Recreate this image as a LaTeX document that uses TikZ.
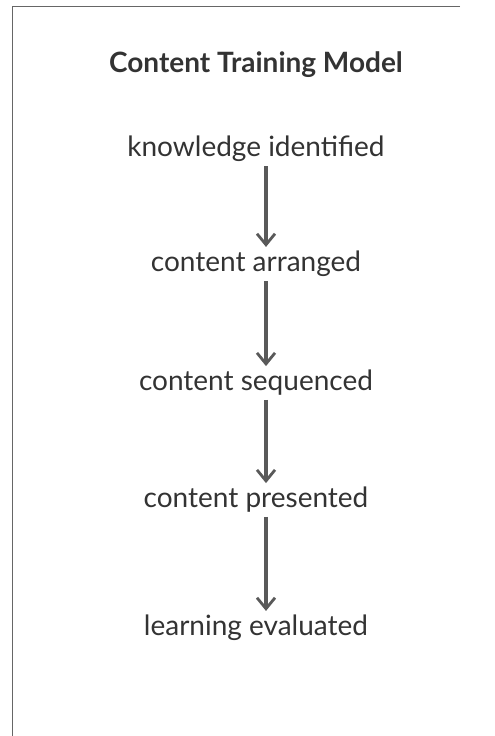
\documentclass[tikz,border=0pt]{standalone}
\usepackage{fontspec}
\setmainfont{Lato}
\usetikzlibrary{arrows.meta}

\tikzset{
	stage/.style={text=black!80, font=\fontsize{28}{32}\selectfont, inner sep=4pt},
	flow/.style={draw=black!65, line width=3.4pt, -{Straight Barb[length=11pt,width=18pt,line width=2.8pt]}}
}

\begin{document}
\begin{tikzpicture}[x=1pt,y=-1pt]

\useasboundingbox (0,0) rectangle (495,736);

% frame
\draw [black!60, line width=0.8pt] (460,6) -- (12,6) -- (12,736);

\node (title) [text=black!80, font=\fontsize{28}{32}\selectfont\bfseries] at (256,65) {Content Training Model};

\node (s1) [stage] at (256,149) {knowledge identified};
\node (s2) [stage] at (256,264) {content arranged};
\node (s3) [stage] at (256,383) {content sequenced};
\node (s4) [stage] at (256,500) {content presented};
\node (s5) [stage] at (256,628) {learning evaluated};

\foreach \a/\b in {s1/s2,s2/s3,s3/s4,s4/s5} {%
	\draw [flow] ([xshift=10pt]\a.south) -- ([xshift=10pt]\b.north);
}

\end{tikzpicture}
\end{document}
